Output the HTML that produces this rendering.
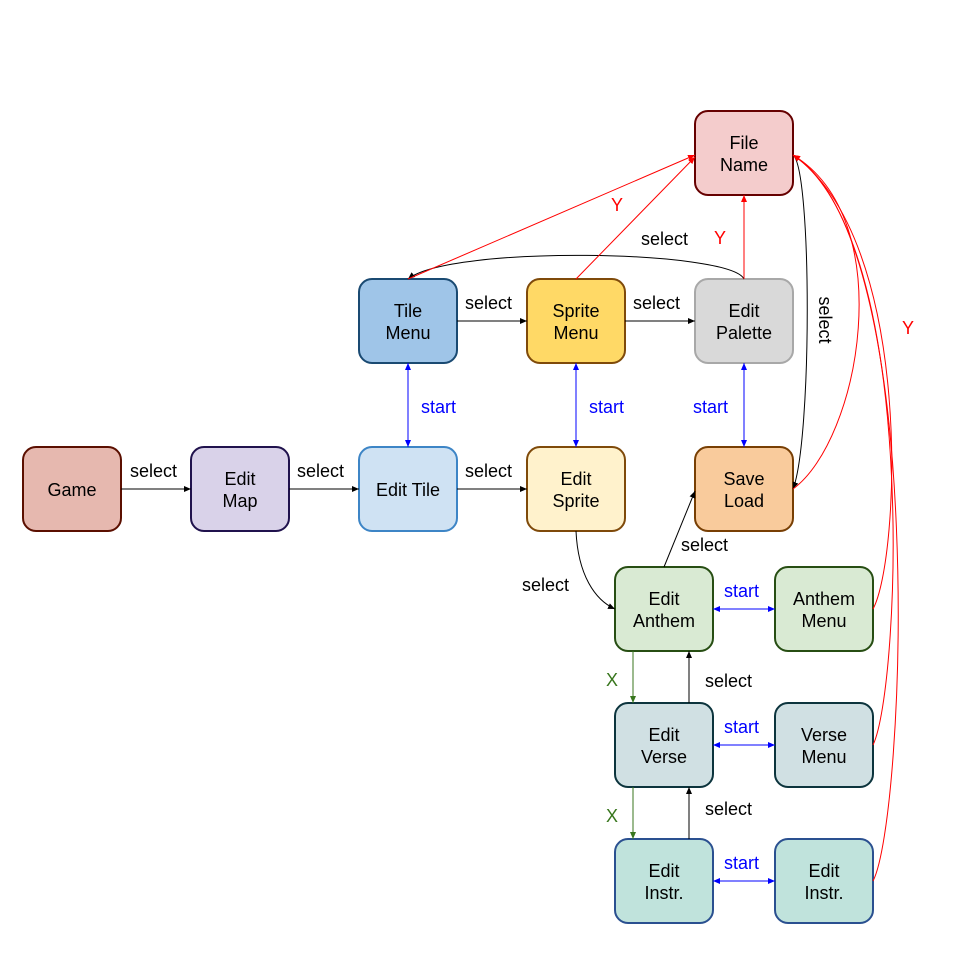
<!DOCTYPE html>
<html><head><meta charset="utf-8"><style>
html,body{margin:0;padding:0;background:#fff;}
svg{display:block;}
text{font-family:"Liberation Sans",Arial,sans-serif;font-size:18px;}
</style></head><body>
<svg width="960" height="960" viewBox="0 0 960 960" xmlns="http://www.w3.org/2000/svg">
<defs>
<marker id="ak" markerUnits="userSpaceOnUse" markerWidth="8" markerHeight="8" refX="7" refY="4" orient="auto-start-reverse"><path d="M0,1 L7,4 L0,7 z" fill="#000"/></marker>
<marker id="ar" markerUnits="userSpaceOnUse" markerWidth="8" markerHeight="8" refX="7" refY="4" orient="auto-start-reverse"><path d="M0,1 L7,4 L0,7 z" fill="#f00"/></marker>
<marker id="ab" markerUnits="userSpaceOnUse" markerWidth="8" markerHeight="8" refX="7" refY="4" orient="auto-start-reverse"><path d="M0,1 L7,4 L0,7 z" fill="#00f"/></marker>
<marker id="ag" markerUnits="userSpaceOnUse" markerWidth="8" markerHeight="8" refX="7" refY="4" orient="auto-start-reverse"><path d="M0,1 L7,4 L0,7 z" fill="#38761d"/></marker>
</defs>

<!-- nodes -->
<g stroke-width="2">
<rect x="23" y="447" width="98" height="84" rx="13" fill="#e6b8af" stroke="#5b0f00"/>
<rect x="191" y="447" width="98" height="84" rx="13" fill="#d9d2e9" stroke="#20124d"/>
<rect x="359" y="447" width="98" height="84" rx="13" fill="#cfe2f3" stroke="#3d85c6"/>
<rect x="527" y="447" width="98" height="84" rx="13" fill="#fff2cc" stroke="#7f4a0a"/>
<rect x="695" y="447" width="98" height="84" rx="13" fill="#f9cb9c" stroke="#783f04"/>
<rect x="359" y="279" width="98" height="84" rx="13" fill="#9fc5e8" stroke="#1a4a72"/>
<rect x="527" y="279" width="98" height="84" rx="13" fill="#ffd966" stroke="#7f4a0a"/>
<rect x="695" y="279" width="98" height="84" rx="13" fill="#d9d9d9" stroke="#a8a8a8"/>
<rect x="695" y="111" width="98" height="84" rx="13" fill="#f4cccc" stroke="#660000"/>
<rect x="615" y="567" width="98" height="84" rx="13" fill="#d9ead3" stroke="#274e13"/>
<rect x="775" y="567" width="98" height="84" rx="13" fill="#d9ead3" stroke="#274e13"/>
<rect x="615" y="703" width="98" height="84" rx="13" fill="#d0e0e3" stroke="#0c343d"/>
<rect x="775" y="703" width="98" height="84" rx="13" fill="#d0e0e3" stroke="#0c343d"/>
<rect x="615" y="839" width="98" height="84" rx="13" fill="#c0e3dc" stroke="#2a5090"/>
<rect x="775" y="839" width="98" height="84" rx="13" fill="#c0e3dc" stroke="#2a5090"/>
</g>

<!-- node labels -->
<g fill="#000" text-anchor="middle">
<text x="72" y="496">Game</text>
<text x="240" y="485">Edit</text><text x="240" y="507">Map</text>
<text x="408" y="496">Edit Tile</text>
<text x="576" y="485">Edit</text><text x="576" y="507">Sprite</text>
<text x="744" y="485">Save</text><text x="744" y="507">Load</text>
<text x="408" y="317">Tile</text><text x="408" y="339">Menu</text>
<text x="576" y="317">Sprite</text><text x="576" y="339">Menu</text>
<text x="744" y="317">Edit</text><text x="744" y="339">Palette</text>
<text x="744" y="149">File</text><text x="744" y="171">Name</text>
<text x="664" y="605">Edit</text><text x="664" y="627">Anthem</text>
<text x="824" y="605">Anthem</text><text x="824" y="627">Menu</text>
<text x="664" y="741">Edit</text><text x="664" y="763">Verse</text>
<text x="824" y="741">Verse</text><text x="824" y="763">Menu</text>
<text x="664" y="877">Edit</text><text x="664" y="899">Instr.</text>
<text x="824" y="877">Edit</text><text x="824" y="899">Instr.</text>
</g>

<!-- black connectors -->
<g stroke="#000" stroke-width="1" fill="none" marker-end="url(#ak)">
<line x1="121" y1="489" x2="191" y2="489"/>
<line x1="289" y1="489" x2="359" y2="489"/>
<line x1="457" y1="489" x2="527" y2="489"/>
<line x1="457" y1="321" x2="527" y2="321"/>
<line x1="625" y1="321" x2="695" y2="321"/>
<path d="M744,279 C730,250 450,245 408,279"/>
<path d="M793,155 C812,170 812,440 793,489"/>
<path d="M576,531 C578,575 595,600 615,609"/>
<line x1="664" y1="567" x2="695" y2="491"/>
<line x1="689" y1="703" x2="689" y2="651"/>
<line x1="689" y1="839" x2="689" y2="787"/>
</g>

<!-- blue double arrows -->
<g stroke="#00f" stroke-width="1" fill="none" marker-start="url(#ab)" marker-end="url(#ab)">
<line x1="408" y1="363" x2="408" y2="447"/>
<line x1="576" y1="363" x2="576" y2="447"/>
<line x1="744" y1="363" x2="744" y2="447"/>
<line x1="713" y1="609" x2="775" y2="609"/>
<line x1="713" y1="745" x2="775" y2="745"/>
<line x1="713" y1="881" x2="775" y2="881"/>
</g>

<!-- green -->
<g stroke="#38761d" stroke-width="1" fill="none" marker-end="url(#ag)">
<line x1="633" y1="651" x2="633" y2="703"/>
<line x1="633" y1="787" x2="633" y2="839"/>
</g>

<!-- red -->
<g stroke="#f00" stroke-width="1" fill="none" marker-end="url(#ar)">
<line x1="408" y1="279" x2="695" y2="155"/>
<line x1="576" y1="279" x2="695" y2="157"/>
<line x1="744" y1="279" x2="744" y2="195"/>
<path d="M793,489 C860,440 900,220 793,155"/>
<path d="M873,609 C900,560 915,240 793,155"/>
<path d="M873,745 C900,690 920,240 793,155"/>
<path d="M873,881 C905,820 930,240 793,155"/>
</g>

<!-- edge labels -->
<g fill="#000">
<text x="130" y="477">select</text>
<text x="297" y="477">select</text>
<text x="465" y="477">select</text>
<text x="465" y="309">select</text>
<text x="633" y="309">select</text>
<text x="641" y="245">select</text>
<text x="522" y="591">select</text>
<text x="681" y="551">select</text>
<text x="705" y="687">select</text>
<text x="705" y="815">select</text>
<text transform="translate(819,320) rotate(90)" text-anchor="middle">select</text>
</g>
<g fill="#00f">
<text x="421" y="413">start</text>
<text x="589" y="413">start</text>
<text x="693" y="413">start</text>
<text x="724" y="597">start</text>
<text x="724" y="733">start</text>
<text x="724" y="869">start</text>
</g>
<g fill="#f00">
<text x="611" y="211">Y</text>
<text x="714" y="244">Y</text>
<text x="902" y="334">Y</text>
</g>
<g fill="#38761d">
<text x="606" y="686">X</text>
<text x="606" y="822">X</text>
</g>
</svg>
</body></html>
